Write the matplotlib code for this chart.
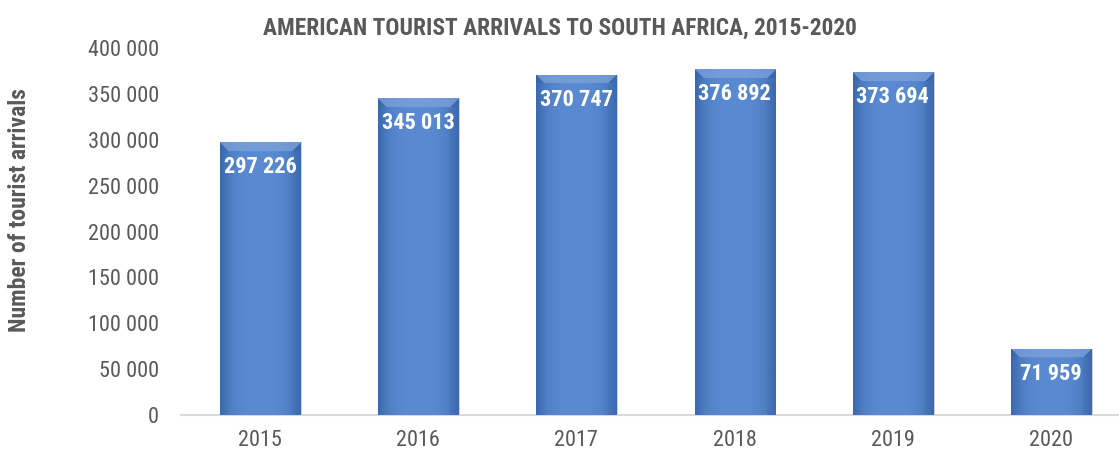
import numpy as np
import matplotlib
matplotlib.use("Agg")
import matplotlib.pyplot as plt
from matplotlib import font_manager
from matplotlib.patches import Rectangle

years = ["2015", "2016", "2017", "2018", "2019", "2020"]
arrivals = [297226, 345013, 370747, 376892, 373694, 71959]
yticks = [0, 50000, 100000, 150000, 200000, 250000, 300000, 350000, 400000]
title = "AMERICAN TOURIST ARRIVALS TO SOUTH AFRICA, 2015-2020"
ylabel = "Number of tourist arrivals"

bold_fams = {f.name for f in font_manager.fontManager.ttflist
             if f.weight in (700, "bold") and f.style == "normal"}
all_fams = {f.name for f in font_manager.fontManager.ttflist}
prefs = ["Arial Narrow", "Liberation Sans Narrow", "Roboto Condensed", "PT Sans Narrow",
         "Open Sans Condensed", "Asap Condensed", "Archivo Narrow", "Barlow Semi Condensed"]
fam = next((p for p in prefs if p in bold_fams and p in all_fams), "Liberation Sans")
plt.rcParams["font.family"] = [fam, "DejaVu Sans"]

W, H = 1119, 453
fig = plt.figure(figsize=(W / 100, H / 100), dpi=100)
left, right, bottom, top = 181, 1130, 415, 48
ax = fig.add_axes([left / W, 1 - bottom / H, (right - left) / W, (bottom - top) / H])

x = np.arange(len(years))
bw = 0.506
ax.set_xlim(-0.5, len(years) - 0.5)
ax.set_ylim(0, 400000)

grey = "#595959"
def fmt(v):
    return f"{v:,}".replace(",", " ")

ax.set_yticks(yticks)
ax.set_yticklabels([fmt(v) for v in yticks], fontsize=16, color=grey)
ax.set_xticks(x)
ax.set_xticklabels(years, fontsize=16, color=grey)
ax.tick_params(axis="both", length=0)
ax.tick_params(axis="y", pad=16)
ax.tick_params(axis="x", pad=11)
for s in ["top", "right", "left"]:
    ax.spines[s].set_visible(False)
ax.spines["bottom"].set_color("#d9d9d9")
ax.spines["bottom"].set_linewidth(1.5)

px_per_y = (bottom - top) / 400000.0
px_per_x = (right - left) / len(years)

def bar_image(height):
    hp = max(int(height * px_per_y), 4)
    wp = int(bw * px_per_x)
    img = np.zeros((hp, wp, 3))
    base = np.array([0x5a, 0x8b, 0xd2]) / 255.0
    dark = np.array([0x3c, 0x69, 0xae]) / 255.0
    light = np.array([0x7f, 0xa4, 0xdb]) / 255.0
    xs = np.linspace(-1, 1, wp)
    edge = np.clip(np.abs(xs), 0, 1) ** 3
    for i in range(hp):
        img[i] = base[None, :] * (1 - edge[:, None]) + dark[None, :] * edge[:, None]
    bev = 9
    for i in range(min(bev, hp)):
        for j in range(wp):
            if i <= j < wp - i:
                img[i, j] = light * 0.7 + img[i, j] * 0.3
            elif j < i:
                img[i, j] = img[i, j] * 0.95
            else:
                img[i, j] = dark
    for j in range(min(bev, wp)):
        img[bev:, j] = img[bev:, j] * 0.94 + dark * 0.06
        img[bev:, wp - 1 - j] = img[bev:, wp - 1 - j] * 0.8 + dark * 0.2
    return img

for xi, v in zip(x, arrivals):
    sh = Rectangle((xi - bw / 2 + 0.012, 0), bw, v, facecolor="#000000", alpha=0.18,
                   edgecolor="none", zorder=2)
    ax.add_patch(sh)
    rect = Rectangle((xi - bw / 2, 0), bw, v, facecolor="#4f81bd", edgecolor="none", zorder=3)
    ax.add_patch(rect)
    im = ax.imshow(bar_image(v), extent=(xi - bw / 2, xi + bw / 2, 0, v),
                   aspect="auto", zorder=4, interpolation="bilinear")
    im.set_clip_path(rect)
    ax.text(xi, v - 25 / px_per_y, fmt(v), ha="center", va="center", color="white",
            fontsize=16, fontweight="bold", zorder=5)

ax.set_xlim(-0.5, len(years) - 0.5)
ax.set_ylim(0, 400000)

fig.text(560 / W, 1 - 28 / H, title, ha="center", va="center", fontsize=16.8,
         fontweight="bold", color=grey)
fig.text(20 / W, 1 - 210 / H, ylabel, ha="center", va="center", rotation=90,
         fontsize=17, fontweight="bold", color=grey)

fig.savefig("out.png", dpi=100)
